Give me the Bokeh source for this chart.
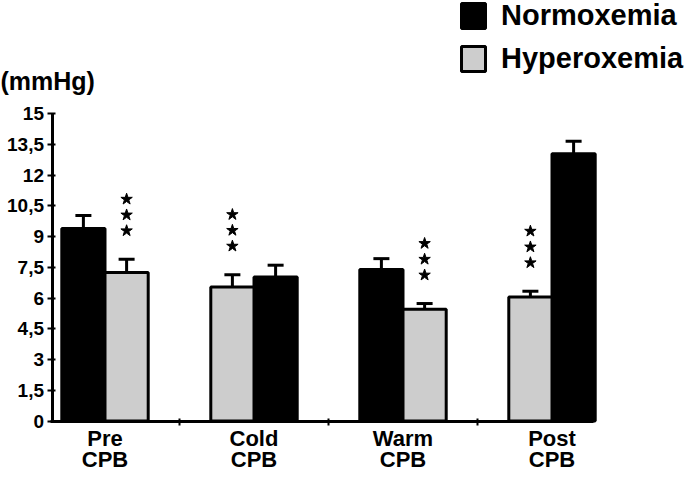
from bokeh.plotting import figure
from bokeh.models import (Range1d, FixedTicker, ColumnDataSource, Whisker, TeeHead,
                          Legend, LegendItem, Label, LinearAxis)
from bokeh.embed import file_html
from bokeh.resources import INLINE

# ---------------- data ----------------
categories = ["Pre\nCPB", "Cold\nCPB", "Warm\nCPB", "Post\nCPB"]
normo_mean = [9.39, 7.03, 7.39, 13.04]
normo_sem = [0.64, 0.57, 0.53, 0.61]
hyper_mean = [7.24, 6.54, 5.45, 6.05]
hyper_sem = [0.65, 0.60, 0.28, 0.28]
normo_first = [True, False, True, False]
hyper_significant = [True, True, True, True]
y_ticks = [0, 1.5, 3, 4.5, 6, 7.5, 9, 10.5, 12, 13.5, 15]
y_tick_labels = ["0", "1,5", "3", "4,5", "6", "7,5", "9", "10,5", "12", "13,5", "15"]

# ---------------- layout constants ----------------
W, H = 684, 471
X0PIX, XSTEP = 104.5, 149.0      # pixel of category 0, pixels per category
Y0PIX, YSCALE = 420.5, 20.5      # pixel of value 0, pixels per unit
FONT = "Liberation Sans"
BAR_OFF, BAR_W = 0.145, 0.29
GRAY = "#cdcdcd"

def xd(px):
    return (px - X0PIX) / XSTEP

def yd(py):
    return (Y0PIX - py) / YSCALE

p = figure(width=W, height=H, output_backend="svg", toolbar_location=None,
           x_range=Range1d(xd(0), xd(W)), y_range=Range1d(yd(H), yd(0)),
           x_axis_location=None, y_axis_location=None, min_border=0)
p.outline_line_color = None
p.grid.visible = False
p.background_fill_color = "white"
p.border_fill_color = "white"

idx = list(range(len(categories)))
normo_x = [i - BAR_OFF if f else i + BAR_OFF for i, f in zip(idx, normo_first)]
hyper_x = [i + BAR_OFF if f else i - BAR_OFF for i, f in zip(idx, normo_first)]

src_n = ColumnDataSource(dict(x=normo_x, top=normo_mean,
                              upper=[m + s for m, s in zip(normo_mean, normo_sem)]))
src_h = ColumnDataSource(dict(x=hyper_x, top=hyper_mean,
                              upper=[m + s for m, s in zip(hyper_mean, hyper_sem)]))

r_n = p.vbar(x="x", top="top", bottom=0, width=BAR_W, source=src_n,
             fill_color="black", line_color="black", line_width=3)
r_h = p.vbar(x="x", top="top", bottom=0, width=BAR_W, source=src_h,
             fill_color=GRAY, line_color="black", line_width=3)

for src in (src_n, src_h):
    w = Whisker(source=src, base="x", lower="top", upper="upper",
                line_color="black", line_width=3, lower_head=None,
                upper_head=TeeHead(size=16, line_width=3, line_color="black"))
    p.add_layout(w)

# significance stars above hyperoxemia bars
star_offsets = [1.39, 2.16, 2.93]
sx, sy = [], []
for x, m, s, sig in zip(hyper_x, hyper_mean, hyper_sem, hyper_significant):
    if sig:
        for o in star_offsets:
            sx.append(x)
            sy.append(m + s + o)
p.scatter(sx, sy, marker="star", size=12, fill_color="black", line_color="black")

# axes
yaxis = LinearAxis(fixed_location=xd(51.5), bounds=(0, 15),
                   ticker=FixedTicker(ticks=y_ticks),
                   major_label_overrides=dict(zip(y_ticks, y_tick_labels)),
                   axis_line_width=3, axis_line_color="black",
                   major_tick_in=3, major_tick_out=5, major_tick_line_width=2,
                   minor_tick_line_color=None,
                   major_label_standoff=3,
                   major_label_text_font=FONT, major_label_text_font_size="19px",
                   major_label_text_font_style="bold", major_label_text_color="black")
p.add_layout(yaxis, "left")

xaxis = LinearAxis(fixed_location=0, bounds=(xd(50), xd(593)),
                   ticker=FixedTicker(ticks=idx, minor_ticks=[0.5, 1.5, 2.5]),
                   major_label_overrides=dict(zip(idx, categories)),
                   axis_line_width=3, axis_line_color="black",
                   major_tick_in=0, major_tick_out=0,
                   minor_tick_in=3, minor_tick_out=4, minor_tick_line_width=2,
                   minor_tick_line_color="black",
                   major_label_standoff=1,
                   major_label_text_font=FONT, major_label_text_font_size="22px",
                   major_label_text_font_style="bold", major_label_text_color="black",
                   major_label_text_line_height=0.85)
p.add_layout(xaxis, "below")

# unit label
p.add_layout(Label(x=0, y=H - 80, x_units="screen", y_units="screen", text="(mmHg)",
                   text_font=FONT, text_font_size="25px", text_font_style="bold",
                   text_color="black", text_baseline="alphabetic", text_align="left"))

legend = Legend(items=[LegendItem(label="Normoxemia", renderers=[r_n]),
                       LegendItem(label="Hyperoxemia", renderers=[r_h])],
                location=(458, H - 2 - 73),
                label_text_font=FONT, label_text_font_size="29px",
                label_text_font_style="bold", label_text_color="black",
                glyph_width=30, glyph_height=31, label_standoff=13, spacing=10,
                padding=0, margin=0, border_line_color=None, background_fill_alpha=0)
p.add_layout(legend)

open("out.html", "w").write(file_html(p, INLINE))
